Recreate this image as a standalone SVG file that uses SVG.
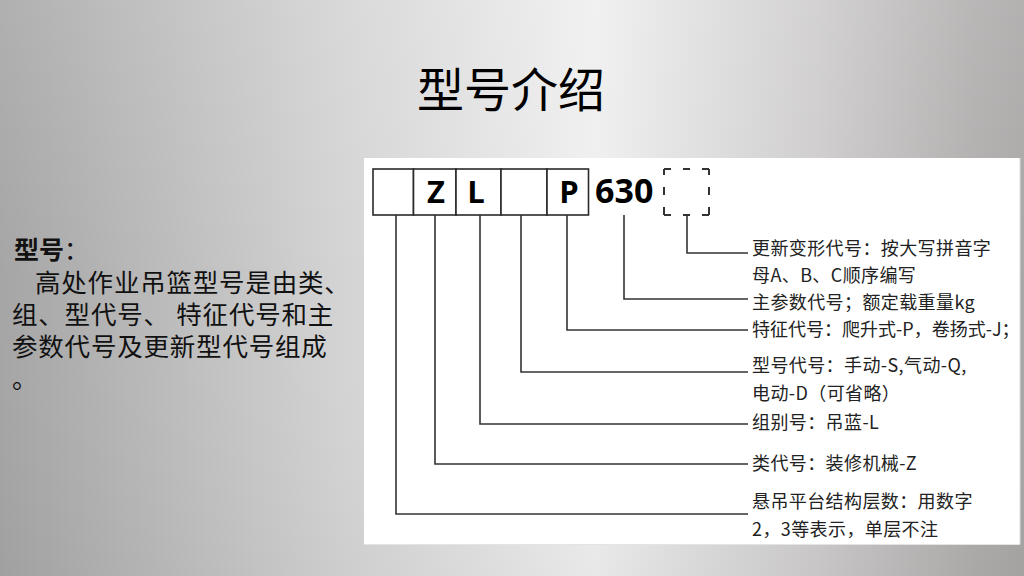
<svg xmlns="http://www.w3.org/2000/svg" width="1024" height="576" viewBox="0 0 1024 576">
  <defs>
    <linearGradient id="bg" x1="0" y1="0" x2="1" y2="0">
      <stop offset="0" stop-color="#a5a5a5"/>
      <stop offset="0.33" stop-color="#d3d3d3"/>
      <stop offset="0.58" stop-color="#efefef"/>
      <stop offset="0.8" stop-color="#cdcbcb"/>
      <stop offset="0.95" stop-color="#b0adad"/>
      <stop offset="1" stop-color="#a9a6a6"/>
    </linearGradient>
    <linearGradient id="vshade" x1="0" y1="0" x2="0" y2="1">
      <stop offset="0" stop-color="#ffffff" stop-opacity="0.12"/>
      <stop offset="0.5" stop-color="#ffffff" stop-opacity="0"/>
      <stop offset="1" stop-color="#000000" stop-opacity="0.03"/>
    </linearGradient>
  </defs>
  <style>
    .cjk { font-family: "Noto Sans CJK SC", "Noto Sans", sans-serif; }
    .title { font-size: 47px; fill: #000; }
    .body { font-size: 25.5px; fill: #111; letter-spacing: 0.8px; }
    .cell { fill: #fff; stroke: #2a2a2a; stroke-width: 1.6; }
    .code { font-family: "Open Sans", "Liberation Sans", sans-serif; font-weight: bold; fill: #000; }
    .lbl { font-size: 18px; fill: #222; letter-spacing: 0.4px; }
    .conn { fill: none; stroke: #333; stroke-width: 1.6; }
    .dash { fill: none; stroke: #333; stroke-width: 2; }
  </style>

  <rect x="0" y="0" width="1024" height="576" fill="url(#bg)"/>
  <rect x="0" y="0" width="1024" height="576" fill="url(#vshade)"/>

  <g id="title">
    <text class="cjk title" x="511" y="107" text-anchor="middle">型号介绍</text>
  </g>

  <g id="description" class="cjk">
    <text x="14" y="259" font-size="25" fill="#111"><tspan font-weight="bold">型号</tspan><tspan>：</tspan></text>
    <text class="body" x="35" y="292">高处作业吊篮型号是由类、</text>
    <text class="body" x="12" y="324">组、型代号、 特征代号和主</text>
    <text class="body" x="12" y="356">参数代号及更新型代号组成</text>
    <text class="body" x="12" y="388">。</text>
  </g>

  <g id="panel">
    <rect x="364" y="158" width="656" height="386" fill="#ffffff"/>
    <line x1="1020" y1="158" x2="1020" y2="544" stroke="#dcdcdc" stroke-width="1"/>
    <line x1="364" y1="544.5" x2="1020" y2="544.5" stroke="#e4e4e4" stroke-width="1"/>
  </g>

  <g id="code">
    <g id="cell-layers"><rect class="cell" x="373" y="169" width="40.5" height="46"/></g>
    <g id="cell-Z"><rect class="cell" x="413.5" y="169" width="42.5" height="46"/>
      <text class="code" x="436" y="203" font-size="31" text-anchor="middle">Z</text></g>
    <g id="cell-L"><rect class="cell" x="456" y="169" width="45" height="46"/>
      <text class="code" x="476" y="203" font-size="31" text-anchor="middle">L</text></g>
    <g id="cell-type"><rect class="cell" x="501" y="169" width="46" height="46"/></g>
    <g id="cell-P"><rect class="cell" x="547" y="169" width="41.5" height="46"/>
      <text class="code" x="569" y="203" font-size="31" text-anchor="middle">P</text></g>
    <g id="param-630">
      <text class="code" x="595" y="203" font-size="34">630</text></g>
    <g id="cell-update">
      <path class="dash" d="M664,169 H671 M683,169 H690 M702,169 H709 M664,215 H671 M683,215 H690 M702,215 H709 M664,169 V175 M664,187 V195 M664,207 V215 M709,169 V175 M709,187 V195 M709,207 V215"/>
    </g>
  </g>

  <g id="connectors">
    <polyline class="conn" points="687,215 687,253 748,253"/>
    <polyline class="conn" points="624,215 624,299 748,299"/>
    <polyline class="conn" points="567,215 567,330 748,330"/>
    <polyline class="conn" points="521,215 521,372 748,372"/>
    <polyline class="conn" points="480,215 480,424 748,424"/>
    <polyline class="conn" points="435,215 435,464 748,464"/>
    <polyline class="conn" points="396,215 396,514 748,514"/>
  </g>

  <g id="labels" class="cjk lbl">
    <g id="label-update">
      <text x="752" y="255">更新变形代号：按大写拼音字</text>
      <text x="752" y="282">母A、B、C顺序编写</text>
    </g>
    <g id="label-param"><text x="752" y="309">主参数代号；额定载重量kg</text></g>
    <g id="label-feature"><text x="752" y="336" letter-spacing="0">特征代号：爬升式-P，卷扬式-J；</text></g>
    <g id="label-type">
      <text x="752" y="372">型号代号：手动-S,气动-Q,</text>
      <text x="752" y="400">电动-D（可省略）</text>
    </g>
    <g id="label-group"><text x="752" y="429">组别号：吊蓝-L</text></g>
    <g id="label-class"><text x="752" y="470">类代号：装修机械-Z</text></g>
    <g id="label-layers">
      <text x="752" y="508">悬吊平台结构层数：用数字</text>
      <text x="752" y="536">2，3等表示，单层不注</text>
    </g>
  </g>
</svg>
